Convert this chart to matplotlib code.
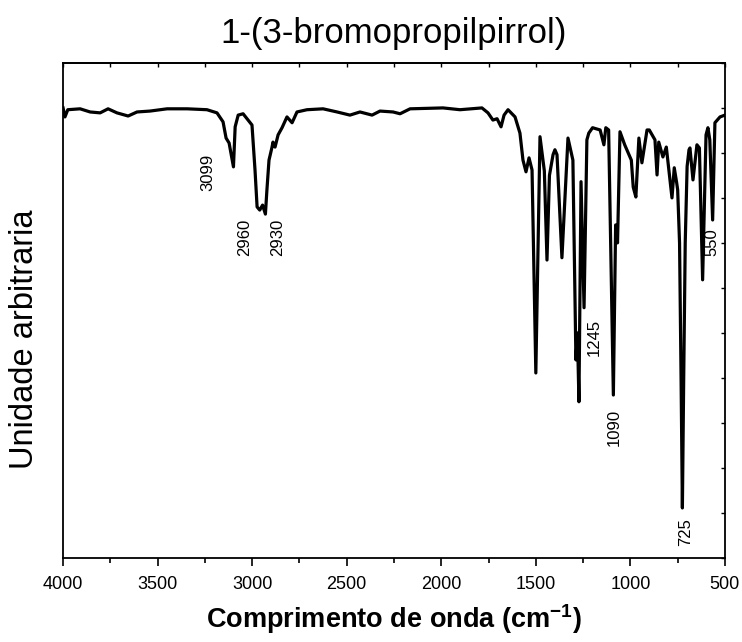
import numpy as np
import matplotlib.pyplot as plt
from matplotlib.ticker import MultipleLocator

plt.rcParams['font.family'] = ['Liberation Sans', 'DejaVu Sans']
plt.rcParams['mathtext.fontset'] = 'custom'
plt.rcParams['mathtext.rm'] = 'Liberation Sans'
plt.rcParams['mathtext.bf'] = 'Liberation Sans:bold'

# IR spectrum (wavenumber in cm-1, arbitrary intensity)
wavenumber = [4000, 3990, 3975, 3910, 3857, 3804, 3762, 3715, 3656, 3609,
              3540, 3450, 3344, 3239, 3186, 3154, 3138, 3122, 3099, 3090,
              3074, 3048, 3022, 3001, 2985, 2974, 2960, 2953, 2945, 2930,
              2922, 2911, 2895, 2890, 2879, 2863, 2842, 2816, 2789, 2763,
              2710, 2625, 2551, 2483, 2430, 2366, 2324, 2255, 2218, 2165,
              1991, 1901, 1785, 1753, 1727, 1705, 1684, 1668, 1647, 1610,
              1584, 1568, 1552, 1536, 1520, 1500, 1478, 1455, 1441, 1428,
              1409, 1399, 1388, 1362, 1330, 1304, 1288, 1280, 1272, 1261,
              1245, 1230, 1220, 1200, 1160, 1140, 1130, 1115, 1090, 1078,
              1068, 1055, 1030, 995, 985, 971, 955, 939, 912, 900,
              870, 859, 850, 828, 810, 795, 780, 768, 755, 750,
              740, 732, 725, 718, 710, 700, 690, 685, 669, 648,
              635, 618, 600, 590, 580, 565, 553, 526, 500]
intensity = [10.0, 9.80, 9.96, 9.98, 9.91, 9.89, 9.98, 9.89, 9.82, 9.91,
             9.93, 9.98, 9.98, 9.96, 9.89, 9.69, 9.33, 9.22, 8.69, 9.58,
             9.84, 9.87, 9.73, 9.62, 8.62, 7.80, 7.73, 7.78, 7.84, 7.64,
             8.18, 8.84, 9.13, 9.24, 9.13, 9.40, 9.56, 9.80, 9.67, 9.91,
             9.96, 9.98, 9.91, 9.84, 9.91, 9.84, 9.93, 9.91, 9.87, 9.98,
             10.0, 9.96, 10.0, 9.89, 9.73, 9.76, 9.58, 9.84, 9.96, 9.80,
             9.44, 8.84, 8.58, 8.89, 8.62, 4.11, 9.36, 8.60, 6.62, 8.50,
             8.96, 9.07, 8.96, 6.67, 9.33, 8.84, 4.40, 5.00, 3.47, 8.36,
             5.56, 9.29, 9.44, 9.56, 9.51, 9.18, 9.56, 9.51, 3.62, 7.40,
             7.00, 9.47, 9.18, 8.84, 8.24, 8.02, 9.33, 8.78, 9.51, 9.51,
             9.29, 8.51, 9.24, 8.91, 9.13, 8.56, 8.00, 8.67, 8.33, 8.18,
             7.00, 4.00, 1.11, 4.00, 7.00, 8.70, 9.07, 9.11, 8.40, 9.18,
             9.11, 6.18, 9.40, 9.56, 9.29, 7.51, 9.67, 9.80, 9.84]

# band labels and where they sit
peak_labels = ['3099', '2960', '2930', '1245', '1090', '725', '550']
label_x = [3233, 3038, 2863, 1193, 1087, 706, 569]
label_y = [8.56, 7.13, 7.13, 4.91, 2.89, 0.58, 7.02]

fig = plt.figure(figsize=(7.42, 6.42), dpi=100)
ax = fig.add_axes([0.085, 0.131, 0.892, 0.771])

ax.plot(wavenumber, intensity, color='black', lw=2.3, solid_joinstyle='round')

for txt, x, y in zip(peak_labels, label_x, label_y):
    ax.text(x, y, txt, rotation=90, ha='center', va='center', fontsize=12)

ax.set_xlim(4000, 500)
ax.set_ylim(0, 11)
ax.xaxis.set_major_locator(MultipleLocator(500))
ax.xaxis.set_minor_locator(MultipleLocator(250))
ax.tick_params(axis='x', which='major', direction='out', length=6, width=1.2,
               labelsize=13, pad=7)
ax.tick_params(axis='x', which='minor', direction='out', length=3.5, width=1.2)

# y ticks only on the right, pointing in, no labels
ax.yaxis.set_major_locator(MultipleLocator(1))
ax.tick_params(axis='y', left=False, right=True, labelleft=False, direction='in',
               length=3, width=1)

top = ax.secondary_xaxis('top')
top.xaxis.set_major_locator(MultipleLocator(250))
top.tick_params(direction='in', length=3, width=1, labeltop=False)
top.spines['top'].set_linewidth(1.3)

for s in ax.spines.values():
    s.set_linewidth(1.3)

ax.set_title('1-(3-bromopropilpirrol)', fontsize=25, pad=14)
ax.set_ylabel('Unidade arbitraria', fontsize=23.5)
ax.yaxis.set_label_coords(-0.035, 0.442)
ax.set_xlabel(r'Comprimento de onda (cm$^{\mathbf{-1}}$)', fontsize=19.5,
              fontweight='bold', labelpad=7)

fig.savefig('out.png', dpi=100)
